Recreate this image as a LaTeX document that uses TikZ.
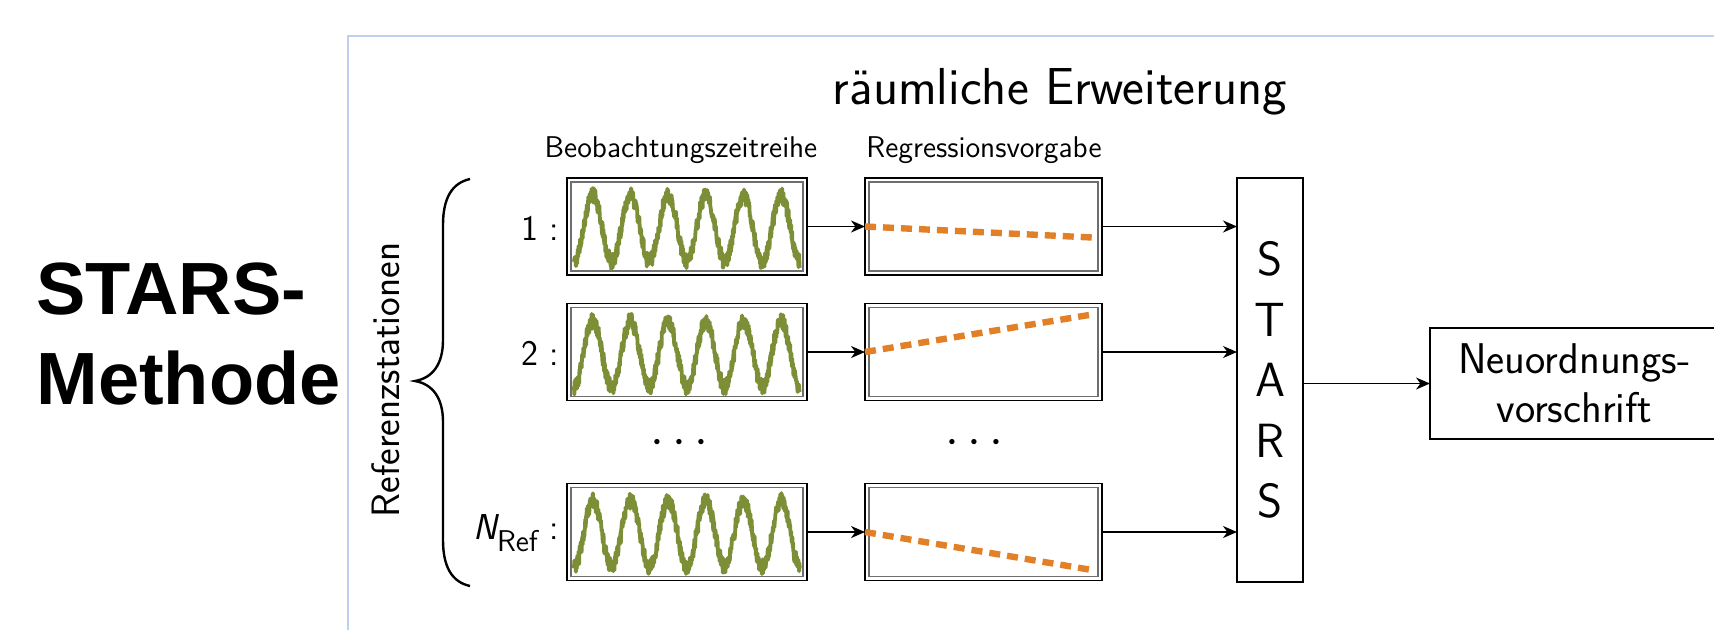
\documentclass[tikz,border=0pt]{standalone}
\usepackage{fontspec}
\usepackage{amsmath}
\newfontfamily\headfont{Liberation Sans}
\usetikzlibrary{arrows.meta,calc}
\definecolor{wavegreen}{RGB}{124,142,54}
\definecolor{trendorange}{RGB}{226,128,40}
\definecolor{innergray}{RGB}{110,110,110}
\definecolor{frameblue}{RGB}{192,207,240}
\begin{document}
\begin{tikzpicture}[x=0.5pt,y=-0.5pt,
  tsbox/.style={draw=black, line width=0.8pt, minimum width=120pt, minimum height=48.5pt, inner sep=0pt, outer sep=0pt},
  regbox/.style={tsbox, minimum width=118.5pt},
  plainbox/.style={draw=black, line width=0.75pt, inner sep=0pt, outer sep=0pt, align=center},
  conn/.style={-{Stealth[length=7pt,width=6pt,inset=2.2pt]}, line width=0.75pt},
  inner/.style={innergray, line width=0.85pt},
  wave/.style={wavegreen, line width=1.9pt, line join=round},
  trend/.style={trendorange, line width=3.2pt, dash pattern=on 5.5pt off 3.5pt},
  lab/.style={font=\fontsize{18pt}{22pt}\selectfont\sffamily, inner sep=0pt, anchor=east},
  hdr/.style={font=\fontsize{15pt}{18pt}\selectfont\sffamily, inner sep=0pt, anchor=base},
  dotsnode/.style={font=\fontsize{27pt}{30pt}\selectfont, inner sep=0pt}
]
\useasboundingbox (0,0) rectangle (1714,629);
\fill[white] (0,0) rectangle (1714,629);
\draw[frameblue, line width=1pt] (348,36) rectangle (1760,680);

% left title
\node[anchor=north west, align=left, inner sep=0pt, font=\headfont\bfseries\fontsize{37pt}{45pt}\selectfont] (M) at (36,262) {STARS-\\Methode};

% title and headers
\node[anchor=base, inner sep=0pt, font=\fontsize{26pt}{31pt}\selectfont\sffamily] (T) at (1060,104) {räumliche Erweiterung};
\node[hdr] (H1) at (681,157) {Beobachtungszeitreihe};
\node[hdr] (H2) at (984,157) {Regressionsvorgabe};

% boxes
\node[tsbox] (A1) at (687,226.5) {};
\node[tsbox] (A2) at (687,352) {};
\node[tsbox] (A3) at (687,532) {};
\node[regbox] (B1) at (983.5,226.5) {};
\node[regbox] (B2) at (983.5,352) {};
\node[regbox] (B3) at (983.5,532) {};

\foreach \n in {A1,A2,A3,B1,B2,B3}
  \draw[inner] ($(\n.north west)+(4,4)$) rectangle ($(\n.south east)+(-4,-4)$);

% waves
\pgfmathsetseed{11}
\foreach \n in {A1,A2,A3}{
  \begin{scope}[shift={(\n.center)}]
    \draw[wave] plot[domain=0:1, samples=700, variable=\t] ({-113+226*\t},{33*cos(2160*\t)+2+8*rand});
  \end{scope}
}

% trends
\draw[trend] (B1.west) -- ++(227,11);
\draw[trend] (B2.west) -- ++(230,-38);
\draw[trend] (B3.west) -- ++(227,38);

% labels
\node[lab] (L1) at (559,228) {1 :};
\node[lab] (L2) at (559,353) {2 :};
\node[lab] (L3) at (559,533) {{\itshape N}\raisebox{-0.32em}{\fontsize{15pt}{18pt}\selectfont Ref} :};

% dots
\node[dotsnode] (D1) at (684,443) {$\cdots$};
\node[dotsnode] (D2) at (979,443) {$\cdots$};

% STARS box
\node[plainbox, minimum width=33pt, minimum height=202pt, font=\fontsize{24pt}{30.25pt}\selectfont\sffamily] (S) at (1270,380) {S\\T\\A\\R\\S};
\node[plainbox, minimum width=144.5pt, minimum height=55.5pt, font=\fontsize{21.5pt}{24.5pt}\selectfont\sffamily] (N) at (1574.5,383.5) {Neuordnungs-\\vorschrift};

% connectors
\draw[conn] (A1.east) -- (B1.west);
\draw[conn] (A2.east) -- (B2.west);
\draw[conn] (A3.east) -- (B3.west);
\draw[conn] (B1.east) -- (B1.east -| S.west);
\draw[conn] (B2.east) -- (B2.east -| S.west);
\draw[conn] (B3.east) -- (B3.east -| S.west);
\draw[conn] (S.east |- N.west) -- (N.west);

% brace and its label
\draw[line width=1.2pt] (470,179) .. controls (452,183) and (443,198) .. (443,225) -- (443,340) .. controls (443,365) and (432,378) .. (415,381) .. controls (432,384) and (443,397) .. (443,422) -- (443,540) .. controls (443,567) and (452,582) .. (470,586);
\node[rotate=90, inner sep=0pt, font=\fontsize{19.8pt}{23pt}\selectfont\sffamily] (R) at (386,380) {Referenzstationen};
\end{tikzpicture}
\end{document}
